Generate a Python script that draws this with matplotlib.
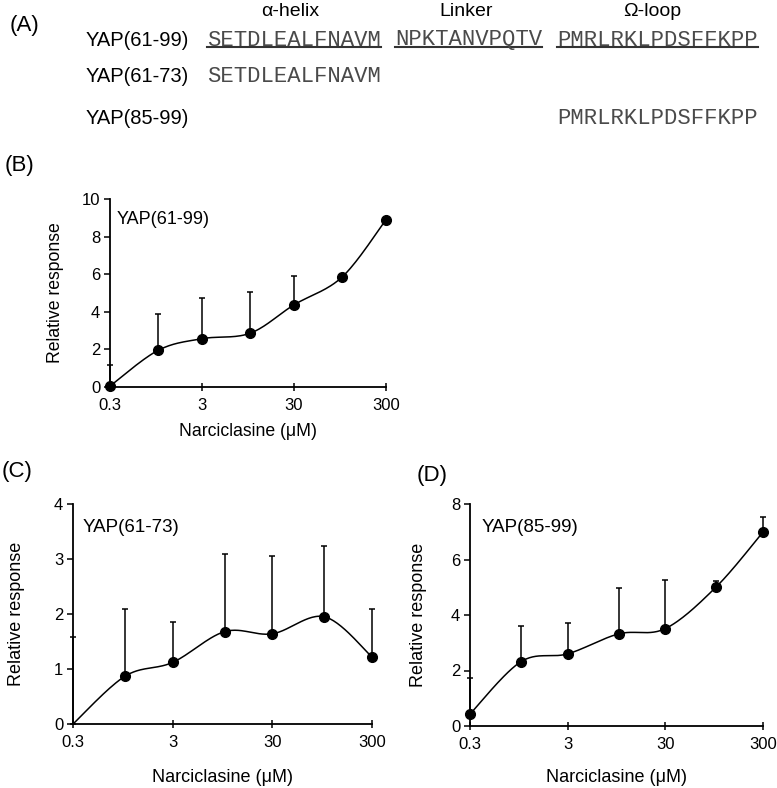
import numpy as np
import matplotlib
matplotlib.use('Agg')
import matplotlib.pyplot as plt
from matplotlib.lines import Line2D

plt.rcParams['font.family'] = ['Liberation Sans', 'DejaVu Sans']

# data
conc = [0.3, 1, 3, 10, 30, 100, 300]

b_mean = [0.05, 1.95, 2.57, 2.86, 4.37, 5.85, 8.9]
b_top = [1.15, 3.9, 4.74, 5.04, 5.9, 5.85, 8.9]

c_mean = [0.0, 0.87, 1.12, 1.68, 1.64, 1.95, 1.22]
c_top = [1.58, 2.09, 1.85, 3.10, 3.05, 3.24, 2.10]

d_mean = [0.43, 2.32, 2.60, 3.32, 3.51, 5.02, 6.99]
d_top = [1.72, 3.62, 3.70, 4.96, 5.25, 5.24, 7.53]

rows = ['YAP(61-99)', 'YAP(61-73)', 'YAP(85-99)']
regions = ['\u03b1-helix', 'Linker', '\u03a9-loop']
seqs = ['SETDLEALFNAVM', 'NPKTANVPQTV', 'PMRLRKLPDSFFKPP']

W, H = 777, 788


def smooth(xs, ys, n=30):
    # excel-like smoothed line (catmull-rom / bezier) in log-x space
    p = np.column_stack([np.log10(xs), ys])
    out = []
    for i in range(len(p) - 1):
        p0 = p[i - 1] if i > 0 else p[i]
        p1, p2 = p[i], p[i + 1]
        p3 = p[i + 2] if i + 2 < len(p) else p[i + 1]
        c1 = p1 + (p2 - p0) / 6
        c2 = p2 - (p3 - p1) / 6
        t = np.linspace(0, 1, n)[:, None]
        seg = (1 - t) ** 3 * p1 + 3 * (1 - t) ** 2 * t * c1 + 3 * (1 - t) * t ** 2 * c2 + t ** 3 * p2
        out.append(seg)
    s = np.vstack(out)
    return 10 ** s[:, 0], s[:, 1]


def fx(x):
    return x / W


def fy(y):
    return 1 - y / H


fig = plt.figure(figsize=(7.77, 7.88), dpi=100)

# ---- panel A ----
fig.text(fx(10), fy(25), '(A)', fontsize=16, va='center')
for name, cx in zip(regions, [290, 466, 652]):
    fig.text(fx(cx), fy(12), name, fontsize=14, ha='center', va='center')
for name, cy in zip(rows, [40, 77, 118]):
    fig.text(fx(86), fy(cy), name, fontsize=14.5, va='center')

seq_x = [207, 395, 557]
mono = dict(family='Liberation Mono', fontsize=16, color='#4a4a4a', va='center')
top_texts = []
for s, sx in zip(seqs, seq_x):
    top_texts.append(fig.text(fx(sx), fy(40), s, **mono))
fig.text(fx(seq_x[0]), fy(77), seqs[0], **mono)
fig.text(fx(seq_x[2]), fy(118), seqs[2], **mono)

fig.canvas.draw()
for t in top_texts:
    bb = t.get_window_extent()
    fig.add_artist(Line2D([bb.x0 / W, bb.x1 / W], [fy(46.5), fy(46.5)],
                          transform=fig.transFigure, color='#333333', lw=1.5))


def panel(rect, mean, top, ymax, ystep, tag, tag_pos, tag_size, lab_size,
          ylab_x, xlab_y, mark_first=True):
    ax = fig.add_axes(rect)
    ax.set_xscale('log')
    ax.set_xlim(0.3, 300)
    ax.set_ylim(0, ymax)
    ax.set_xticks([0.3, 3, 30, 300])
    ax.set_xticklabels(['0.3', '3', '30', '300'])
    ax.xaxis.set_minor_locator(matplotlib.ticker.NullLocator())
    yt = np.arange(0, ymax + 0.01, ystep)
    ax.set_yticks(yt)
    ax.set_yticklabels([str(int(v)) for v in yt])
    for sp in ['top', 'right']:
        ax.spines[sp].set_visible(False)
    for sp in ['left', 'bottom']:
        ax.spines[sp].set_linewidth(1.3)
    ax.tick_params(axis='y', direction='out', length=4, width=1.1, labelsize=12, pad=3)
    ax.tick_params(axis='x', direction='inout', length=6, width=1.1, labelsize=12, pad=5)

    sx, sy = smooth(conc, mean)
    ax.plot(sx, sy, color='black', lw=1.1, clip_on=False, zorder=3)
    err = np.array(top) - np.array(mean)
    ax.errorbar(conc, mean, yerr=[np.zeros(len(err)), err], fmt='none', ecolor='black',
                elinewidth=1.1, capsize=2.5, capthick=1.1, clip_on=False, zorder=2)
    idx = list(range(len(conc))) if mark_first else list(range(1, len(conc)))
    ax.plot([conc[i] for i in idx], [mean[i] for i in idx], 'o', color='black',
            ms=7, clip_on=False, zorder=4)

    ax.text(tag_pos[0], tag_pos[1], tag, transform=ax.transAxes, fontsize=tag_size, va='center')
    ax.set_ylabel('Relative response', fontsize=lab_size)
    ax.yaxis.set_label_coords(ylab_x, 0.5)
    ax.set_xlabel('Narciclasine (\u03bcM)', fontsize=lab_size)
    ax.xaxis.set_label_coords(0.5, xlab_y)
    return ax


# ---- panel B ----
fig.text(fx(5), fy(165), '(B)', fontsize=16, va='center')
panel([fx(110), fy(387), (386 - 110) / W, (387 - 199) / H], b_mean, b_top, 10, 2,
      rows[0], ((117 - 110) / 276, (387 - 220) / 188), 13, 12.7, -0.165, -0.19)

# ---- panel C ----
fig.text(fx(2), fy(472), '(C)', fontsize=16, va='center')
panel([fx(73), fy(724), (372 - 73) / W, (724 - 504) / H], c_mean, c_top, 4, 1,
      rows[1], ((83 - 73) / 299, (724 - 528) / 220), 13.5, 13, -0.16, -0.205,
      mark_first=False)

# ---- panel D ----
fig.text(fx(417), fy(475), '(D)', fontsize=16, va='center')
panel([fx(470), fy(726), (763 - 470) / W, (726 - 504) / H], d_mean, d_top, 8, 2,
      rows[2], ((482 - 470) / 293, (726 - 528) / 222), 13.5, 13, -0.147, -0.195)

fig.savefig('out.png', dpi=100)
